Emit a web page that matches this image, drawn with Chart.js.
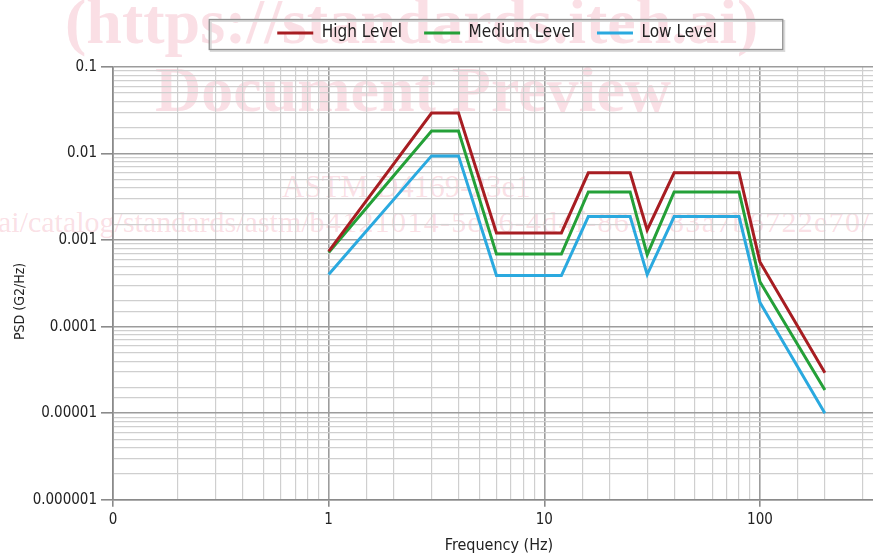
<!DOCTYPE html>
<html>
<head>
<meta charset="utf-8">
<script src="https://cdn.jsdelivr.net/npm/chart.js@4.4.1/dist/chart.umd.min.js"></script>
<style>
    html, body { margin: 0; padding: 0; background: #fff; overflow: hidden; width: 873px; height: 555px; }
    #wrap { position: relative; width: 889px; height: 555px; }
    .wm { position: absolute; white-space: nowrap; font-family: "Liberation Serif", "DejaVu Serif", serif; color: rgba(236, 120, 145, 0.24); line-height: 1; }
    #chart { position: absolute; left: 0; top: 0; }
</style>
</head>
<body>
<div id="wrap">
    <div class="wm" style="left: 65px; top: -10px; font-size: 64px; font-weight: bold;">(https://standards.iteh.ai)</div>
    <div class="wm" style="left: 155px; top: 58px; font-size: 64px; font-weight: bold;">Document Preview</div>
    <div class="wm" style="left: 282px; top: 171px; font-size: 31px;">ASTM D4169-23e1</div>
    <div class="wm" style="left: -2px; top: 207px; font-size: 30px;">ai/catalog/standards/astm/<span style="letter-spacing: 1.3px;">b4121014-5eb6-4d4f-86f7-83a7b6722e70/</span></div>
    <canvas id="chart" width="889" height="555"></canvas>
</div>
<script>
// frecvente (Hz) si nivelurile PSD
const freqHz = [1, 3, 4, 6, 12, 16, 25, 30, 40, 80, 100, 200];
const highLevel = [0.00074, 0.0294, 0.0294, 0.00121, 0.00121, 0.006, 0.006, 0.00131, 0.006, 0.006, 0.00056, 0.0000293];
const mediumLevel = [0.00072, 0.0182, 0.0182, 0.00069, 0.00069, 0.0036, 0.0036, 0.00068, 0.0036, 0.0036, 0.00033, 0.0000186];
const lowLevel = [0.0004, 0.0094, 0.0094, 0.00039, 0.00039, 0.00187, 0.00187, 0.0004, 0.00187, 0.00187, 0.00019, 0.00001];

const seriesNames = ['High Level', 'Medium Level', 'Low Level'];
const seriesColors = ['#a71d22', '#24a038', '#2aa9df'];

// etichete pe axe, indexate dupa exponent
const xTickLabels = ['0', '1', '10', '100', '1000'];   // 10^-1 .. 10^3
const yTickLabels = ['0.000001', '0.00001', '0.0001', '0.001', '0.01', '0.1']; // 10^-6 .. 10^-1

const FONT = '"DejaVu Sans Condensed", "Open Sans", sans-serif';

function isDecade(v) {
    const l = Math.log10(v);
    return Math.abs(l - Math.round(l)) < 1e-6;
}

function gridColor(ctx) {
    return ctx.tick && isDecade(ctx.tick.value) ? '#9c9c9c' : '#cfcfcf';
}
function gridWidth(ctx) {
    return ctx.tick && isDecade(ctx.tick.value) ? 1.6 : 1.2;
}
function tickMarkColor(ctx) {
    return ctx.tick && isDecade(ctx.tick.value) ? '#8a8a8a' : 'rgba(0,0,0,0)';
}

const datasets = [highLevel, mediumLevel, lowLevel].map((values, i) => ({
    label: seriesNames[i],
    data: freqHz.map((f, j) => ({ x: f, y: values[j] })),
    borderColor: seriesColors[i],
    backgroundColor: seriesColors[i],
    borderWidth: 3,
    pointRadius: 0,
    tension: 0
}));

// legenda centrata pe zona graficului, cu chenar
const legendFrame = {
    id: 'legendFrame',
    beforeInit(chart) {
        const fit = chart.legend.fit;
        chart.legend.fit = function () {
            fit.call(this);
            this.height = 64.5;
        };
    },
    afterLayout(chart) {
        const lg = chart.legend;
        const area = chart.chartArea;
        const dx = (area.left + area.right) / 2 - (lg.left + lg.right) / 2 - 2;
        lg.left += dx;
        lg.right += dx;
    },
    afterDraw(chart) {
        const boxes = chart.legend.legendHitBoxes;
        if (!boxes || !boxes.length) return;
        const left = Math.min(...boxes.map(b => b.left)) - 68;
        const right = Math.max(...boxes.map(b => b.left + b.width)) + 66;
        const top = boxes[0].top - 5;
        const bottom = boxes[0].top + boxes[0].height + 8;
        const c = chart.ctx;
        c.save();
        c.strokeStyle = '#dadada';
        c.lineWidth = 2;
        c.strokeRect(left + 1.5, top + 1.5, right - left, bottom - top);
        c.strokeStyle = '#8f8f8f';
        c.lineWidth = 1.3;
        c.strokeRect(left, top, right - left, bottom - top);
        c.restore();
    }
};

new Chart(document.getElementById('chart'), {
    type: 'line',
    data: { datasets },
    options: {
        responsive: false,
        animation: false,
        layout: { padding: { top: 2.5, left: 0, right: 0, bottom: 0 } },
        plugins: {
            legend: {
                position: 'top',
                labels: {
                    boxWidth: 36,
                    boxHeight: 3,
                    padding: 22,
                    color: '#222',
                    font: { family: FONT, size: 17 },
                    generateLabels(chart) {
                        const items = Chart.defaults.plugins.legend.labels.generateLabels(chart);
                        items.forEach(it => { it.lineWidth = 0; });
                        return items;
                    }
                }
            },
            tooltip: { enabled: false }
        },
        scales: {
            x: {
                type: 'logarithmic',
                min: 0.1,
                max: 380,
                grid: { color: gridColor, lineWidth: gridWidth, tickColor: tickMarkColor, tickLength: 7 },
                border: { color: '#8a8a8a', width: 1.6 },
                ticks: {
                    autoSkip: false,
                    maxRotation: 0,
                    padding: 4,
                    color: '#222',
                    font: { family: FONT, size: 15 },
                    callback(value) {
                        if (!isDecade(value)) return '';
                        return xTickLabels[Math.round(Math.log10(value)) + 1] || '';
                    }
                },
                title: {
                    display: true,
                    text: 'Frequency (Hz)',
                    color: '#222',
                    font: { family: FONT, size: 16 },
                    padding: { top: 3, bottom: 0 }
                }
            },
            y: {
                type: 'logarithmic',
                min: 0.000001,
                max: 0.1,
                afterFit(scale) { scale.width = 113; },
                grid: { color: gridColor, lineWidth: gridWidth, tickColor: tickMarkColor, tickLength: 12 },
                border: { color: '#8a8a8a', width: 1.6 },
                ticks: {
                    autoSkip: false,
                    padding: 4,
                    color: '#222',
                    font: { family: FONT, size: 15 },
                    callback(value) {
                        if (!isDecade(value)) return '';
                        return yTickLabels[Math.round(Math.log10(value)) + 6] || '';
                    }
                },
                title: {
                    display: true,
                    // espatiile de la final coboara putin titlul, ca in original
                    text: 'PSD (G2/Hz)         ',
                    color: '#222',
                    font: { family: FONT, size: 14 },
                    padding: { top: 12, bottom: 0 }
                }
            }
        }
    },
    plugins: [legendFrame]
});
</script>
</body>
</html>
